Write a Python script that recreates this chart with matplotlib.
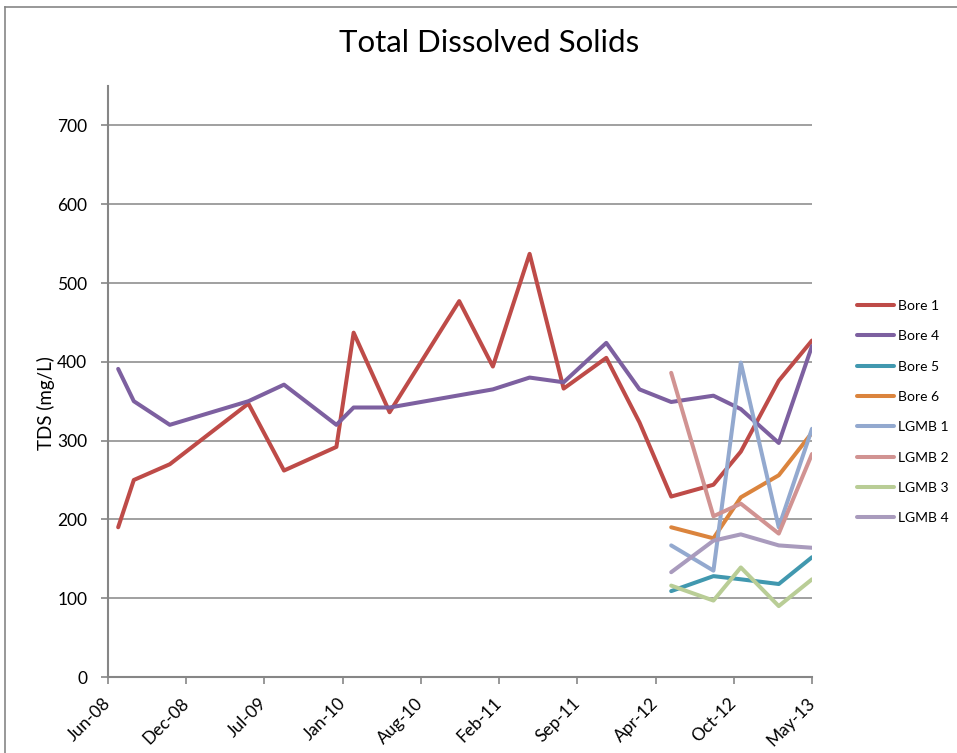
import numpy as np
import pandas as pd
import matplotlib
matplotlib.use("Agg")
import matplotlib.pyplot as plt
import matplotlib.dates as mdates
from matplotlib import font_manager
from matplotlib.lines import Line2D

# ---------------- data ----------------
bore_dates = ["2008-06-28", "2008-08-07", "2008-11-07", "2009-05-27", "2009-08-26",
              "2010-01-07", "2010-02-20", "2010-05-23", "2010-11-17", "2011-02-11",
              "2011-05-16", "2011-08-11", "2011-11-28", "2012-02-21", "2012-05-12",
              "2012-08-28", "2012-11-06", "2013-02-11", "2013-05-07"]
bore1 = [190, 250, 270, 347, 262, 292, 437, 336, 477, 394, 537, 366, 405, 323, 229,
         244, 286, 376, 427]

bore4_dates = ["2008-06-28", "2008-08-07", "2008-11-07", "2009-05-27", "2009-08-26",
               "2010-01-07", "2010-02-20", "2010-05-23", "2011-02-11",
               "2011-05-16", "2011-08-11", "2011-11-28", "2012-02-21", "2012-05-12",
               "2012-08-28", "2012-11-06", "2013-02-11", "2013-05-07"]
bore4 = [391, 350, 320, 350, 371, 320, 342, 342, 365, 380, 374, 424, 365, 349,
         357, 340, 297, 420]

recent_dates = ["2012-05-12", "2012-08-28", "2012-11-06", "2013-02-11", "2013-05-07"]
bore5 = [109, 128, 124, 118, 152]
bore6 = [190, 176, 228, 256, 310]
lgmb1 = [167, 135, 399, 190, 315]
lgmb2 = [386, 204, 220, 182, 283]
lgmb3 = [116, 97, 139, 90, 124]
lgmb4 = [133, 173, 181, 167, 164]

series_names = ["Bore 1", "Bore 4", "Bore 5", "Bore 6", "LGMB 1", "LGMB 2", "LGMB 3", "LGMB 4"]
series_colors = ["#BE4B48", "#7D60A0", "#4198AF", "#DB843D", "#93A9CF", "#D19392",
                 "#B9CD96", "#A99BBD"]

axis_start = "2008-06-02"
tick_step_days = 200
n_ticks = 10
y_ticks = [0, 100, 200, 300, 400, 500, 600, 700]
y_max = 750

# ---------------- fonts ----------------
names = {f.name for f in font_manager.fontManager.ttflist}
base_font = "Lato" if "Lato" in names else "DejaVu Sans"
title_font = "Liberation Sans Narrow" if "Liberation Sans Narrow" in names else base_font
plt.rcParams["font.family"] = [base_font, "DejaVu Sans"]

# ---------------- figure ----------------
fig = plt.figure(figsize=(9.57, 7.53), dpi=100)
W, H = 957, 753
ax = fig.add_axes([108 / W, 1 - 677 / H, (812 - 108) / W, (677 - 86) / H])

grid_c = "#868686"

xs_bore = pd.to_datetime(bore_dates)
xs_b4 = pd.to_datetime(bore4_dates)
xs_recent = pd.to_datetime(recent_dates)

data = [(xs_bore, bore1), (xs_b4, bore4), (xs_recent, bore5), (xs_recent, bore6),
        (xs_recent, lgmb1), (xs_recent, lgmb2), (xs_recent, lgmb3), (xs_recent, lgmb4)]

for (xd, yd), name, col in zip(data, series_names, series_colors):
    ax.plot(xd, yd, color=col, lw=2.9, label=name,
            solid_joinstyle="round", solid_capstyle="round", zorder=3)

t0 = pd.Timestamp(axis_start)
ticks = [t0 + pd.Timedelta(days=tick_step_days * i) for i in range(n_ticks)]
ax.set_xlim(ticks[0], ticks[-1])
ax.set_xticks(ticks)
ax.xaxis.set_major_formatter(mdates.DateFormatter("%b-%y"))
ax.set_ylim(0, y_max)
ax.set_yticks(y_ticks)

ax.grid(axis="y", color=grid_c, lw=1.1, zorder=0)
ax.set_axisbelow(True)
for s in ["top", "right"]:
    ax.spines[s].set_visible(False)
for s in ["left", "bottom"]:
    ax.spines[s].set_color(grid_c)
    ax.spines[s].set_linewidth(1.5)

ax.tick_params(axis="both", colors=grid_c, length=5, width=1.2, direction="out")
ax.tick_params(axis="y", labelsize=12.5, labelcolor="black", pad=10)
ax.tick_params(axis="x", labelsize=12.5, labelcolor="black", pad=12)
for lab in ax.get_xticklabels():
    lab.set_rotation(45)
    lab.set_ha("right")
    lab.set_va("center")
    lab.set_rotation_mode("anchor")

ax.set_ylabel("TDS (mg/L)", fontsize=13.5, color="black")
ax.yaxis.set_label_coords((55 - 108) / (812 - 108), 1 - (403 - 86) / (677 - 86))

fig.text(489 / W, 1 - 43 / H, "Total Dissolved Solids", ha="center", va="center",
         fontsize=22.5, family=[title_font, "DejaVu Sans"], color="black")

leg = fig.legend(loc="upper left", bbox_to_anchor=(857 / W, 1 - 300 / H), frameon=False,
                 fontsize=10, handlelength=2.66, handletextpad=0.3, labelspacing=1.32,
                 borderpad=0, borderaxespad=0)

# outer chart border (top and left visible)
fig.add_artist(Line2D([5 / W, 5 / W], [0, 1 - 7 / H], transform=fig.transFigure,
                      color=grid_c, lw=1.2))
fig.add_artist(Line2D([5 / W, 1], [1 - 7 / H, 1 - 7 / H], transform=fig.transFigure,
                      color=grid_c, lw=1.2))

fig.savefig("out.png", dpi=100)
